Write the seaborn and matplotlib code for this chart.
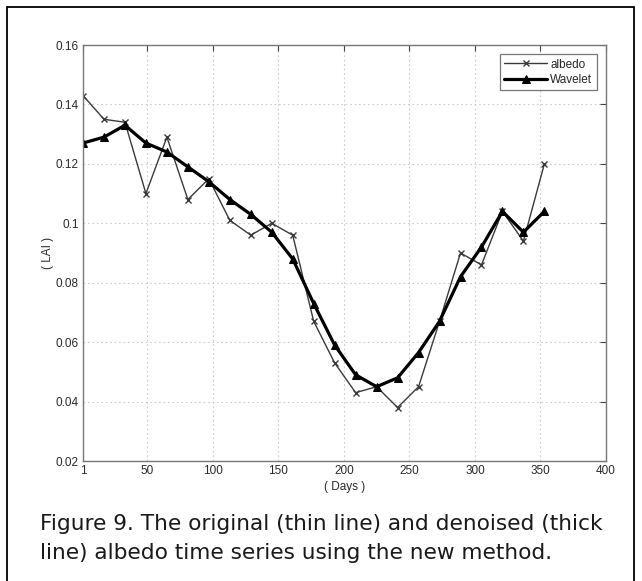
import matplotlib
matplotlib.use("Agg")
import matplotlib.pyplot as plt
import seaborn as sns
import pandas as pd
from matplotlib.patches import Rectangle

# 16-day composite dates (day of year)
days = [1, 17, 33, 49, 65, 81, 97, 113, 129, 145, 161, 177,
        193, 209, 225, 241, 257, 273, 289, 305, 321, 337, 353]
albedo = [0.143, 0.135, 0.134, 0.110, 0.129, 0.108, 0.115, 0.101,
          0.096, 0.100, 0.096, 0.067, 0.053, 0.043, 0.045, 0.038,
          0.045, 0.067, 0.090, 0.086, 0.104, 0.094, 0.120]
wavelet = [0.127, 0.129, 0.133, 0.127, 0.124, 0.119, 0.114, 0.108,
           0.103, 0.097, 0.088, 0.073, 0.059, 0.049, 0.045, 0.048,
           0.0565, 0.067, 0.082, 0.092, 0.104, 0.097, 0.104]
x_ticks = [1, 50, 100, 150, 200, 250, 300, 350, 400]
y_ticks = [0.02, 0.04, 0.06, 0.08, 0.10, 0.12, 0.14, 0.16]
y_ticklabels = ["0.02", "0.04", "0.06", "0.08", "0.1", "0.12", "0.14", "0.16"]

sns.set_style("white")
plt.rcParams["font.family"] = ["Liberation Sans", "DejaVu Sans"]

df = pd.DataFrame({"day": days, "albedo": albedo, "wavelet": wavelet})

fig = plt.figure(figsize=(6.42, 5.81), dpi=100)
ax = fig.add_axes([83 / 642, 1 - 461 / 581, (606 - 83) / 642, (461 - 45) / 581])

sns.lineplot(data=df, x="day", y="albedo", ax=ax, color="#3a3a3a", lw=1.0,
             marker="x", markersize=5, markeredgewidth=1.0,
             markeredgecolor="#3a3a3a", label="albedo")
sns.lineplot(data=df, x="day", y="wavelet", ax=ax, color="black", lw=2.3,
             marker="^", markersize=5.5, markeredgecolor="black", label="Wavelet")

ax.set_xlim(1, 400)
ax.set_ylim(0.02, 0.16)
ax.set_xticks(x_ticks)
ax.set_xticklabels([str(t) for t in x_ticks])
ax.set_yticks(y_ticks)
ax.set_yticklabels(y_ticklabels)
ax.tick_params(direction="in", top=True, right=True, length=4, width=0.8,
               labelsize=8.5, colors="#444444", labelcolor="#2a2a2a", pad=3)
ax.grid(True, ls=(0, (1.5, 2.5)), color="#cccccc", lw=0.8)
for s in ax.spines.values():
    s.set_color("#777777")
    s.set_linewidth(1.0)

ax.set_xlabel("( Days )", fontsize=8.5, color="#2a2a2a", labelpad=3)
ax.set_ylabel("( LAI )", fontsize=8.5, color="#2a2a2a", labelpad=1)

leg = ax.legend(loc="upper right", fontsize=8.5, frameon=True, fancybox=False,
                handlelength=3.6, borderpad=0.35, labelspacing=0.3,
                handletextpad=0.3, borderaxespad=0.8)
leg.get_frame().set_edgecolor("#555555")
leg.get_frame().set_linewidth(0.9)

# outer frame around the figure panel
fig.patches.append(Rectangle((7 / 642, -0.05), (634 - 7) / 642, 1.05 - 7 / 581,
                             transform=fig.transFigure, fill=False,
                             edgecolor="black", lw=1.3))

cap_font = ["DejaVu Sans"]
fig.text(40 / 642, 1 - 524 / 581,
         "Figure 9. The original (thin line) and denoised (thick",
         fontsize=15.6, va="center", ha="left", color="#1a1a1a", family=cap_font)
fig.text(40 / 642, 1 - 553 / 581,
         "line) albedo time series using the new method.",
         fontsize=15.6, va="center", ha="left", color="#1a1a1a", family=cap_font)

fig.savefig("out.png", dpi=100)
